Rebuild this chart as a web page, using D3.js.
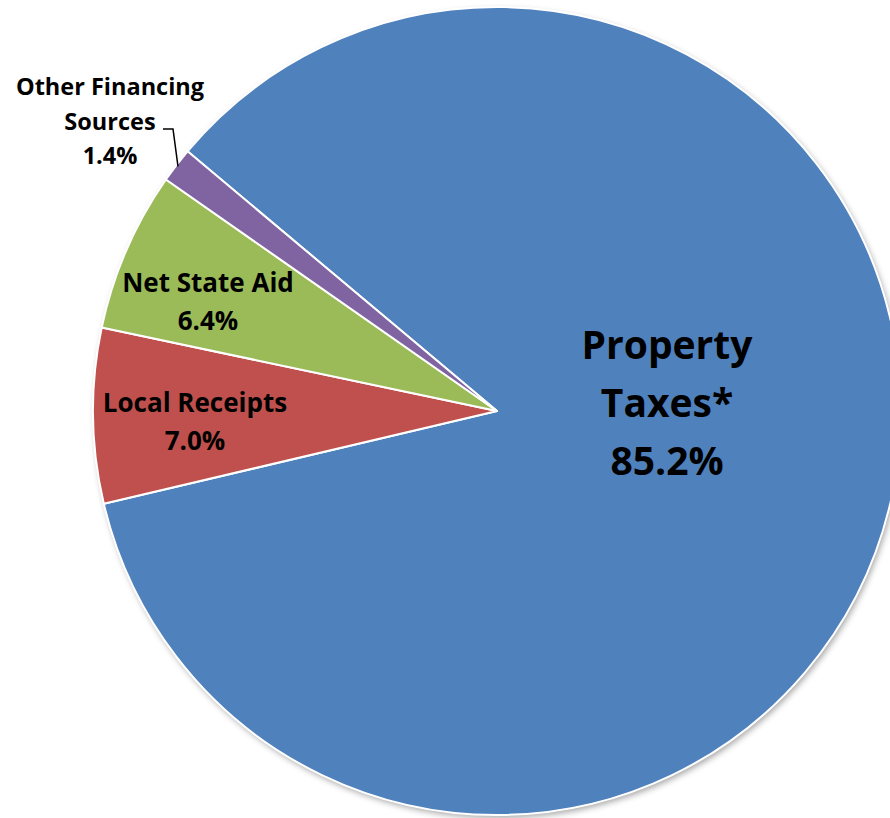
<!DOCTYPE html>
<html>
<head>
<meta charset="utf-8">
<script src="https://cdn.jsdelivr.net/npm/d3@7"></script>
<style>
  body { margin: 0; background: #fff; }
  svg text { font-family: "Open Sans", "Liberation Sans", Arial, sans-serif; font-weight: bold; fill: #000; }
</style>
</head>
<body>
<div id="piechart"></div>
<script>
// data
const categories = ['Property Taxes*', 'Local Receipts', 'Net State Aid', 'Other Financing Sources']
const shares = [85.2, 7.0, 6.4, 1.4]
const colors = ['#4F81BD', '#C0504D', '#9BBB59', '#8064A2']

const width = 890
const height = 818
const cx = 497
const cy = 411
const radius = 404

const svg = d3
    .select('#piechart')
    .append('svg')
    .attr('width', width)
    .attr('height', height)

// soft shadow like the office chart
const defs = svg.append('defs')
const filter = defs.append('filter')
    .attr('id', 'shadow')
    .attr('x', '-10%').attr('y', '-10%')
    .attr('width', '120%').attr('height', '120%')
filter.append('feDropShadow')
    .attr('dx', 2).attr('dy', 3)
    .attr('stdDeviation', 3)
    .attr('flood-color', '#000')
    .attr('flood-opacity', 0.35)

const g = svg.append('g')
    .attr('transform', `translate(${cx},${cy})`)

const startAngle = -50 * Math.PI / 180
const pie = d3.pie()
    .sort(null)
    .value(d => d)
    .startAngle(startAngle)
    .endAngle(startAngle + 2 * Math.PI)

const arcs = pie(shares)
const arc = d3.arc().innerRadius(0).outerRadius(radius)

g.append('circle')
    .attr('r', radius)
    .attr('fill', '#fff')
    .attr('filter', 'url(#shadow)')

g.selectAll('path.slice')
    .data(arcs)
    .enter()
    .append('path')
    .attr('class', 'slice')
    .attr('d', arc)
    .attr('fill', (d, i) => colors[i])
    .attr('stroke', '#fff')
    .attr('stroke-width', 2)
    .attr('stroke-linejoin', 'round')

// label layout (absolute page positions of each label block)
const labels = [
    { lines: ['Property', 'Taxes*', shares[0].toFixed(1) + '%'], x: 667, y: 359, size: 39, step: 58 },
    { lines: ['Local Receipts', shares[1].toFixed(1) + '%'], x: 195, y: 412, size: 26, step: 38 },
    { lines: ['Net State Aid', shares[2].toFixed(1) + '%'], x: 208, y: 292, size: 26, step: 38 },
    { lines: ['Other Financing', 'Sources', shares[3].toFixed(1) + '%'], x: 110, y: 95, size: 23.5, step: 34.5 }
]

labels.forEach(l => {
    const t = svg.append('text')
        .attr('text-anchor', 'middle')
        .attr('font-size', l.size)
    l.lines.forEach((s, j) => {
        t.append('tspan')
            .attr('x', l.x)
            .attr('y', l.y + j * l.step)
            .text(s)
    })
})

// leader line for the small slice
const mid = (arcs[3].startAngle + arcs[3].endAngle) / 2
const tip = [Math.sin(mid) * (radius - 2), -Math.cos(mid) * (radius - 2)]
svg.append('polyline')
    .attr('points', [[163, 129], [173, 129], [cx + tip[0], cy + tip[1]]].map(p => p.join(',')).join(' '))
    .attr('fill', 'none')
    .attr('stroke', '#000')
    .attr('stroke-width', 1.5)
</script>
</body>
</html>
